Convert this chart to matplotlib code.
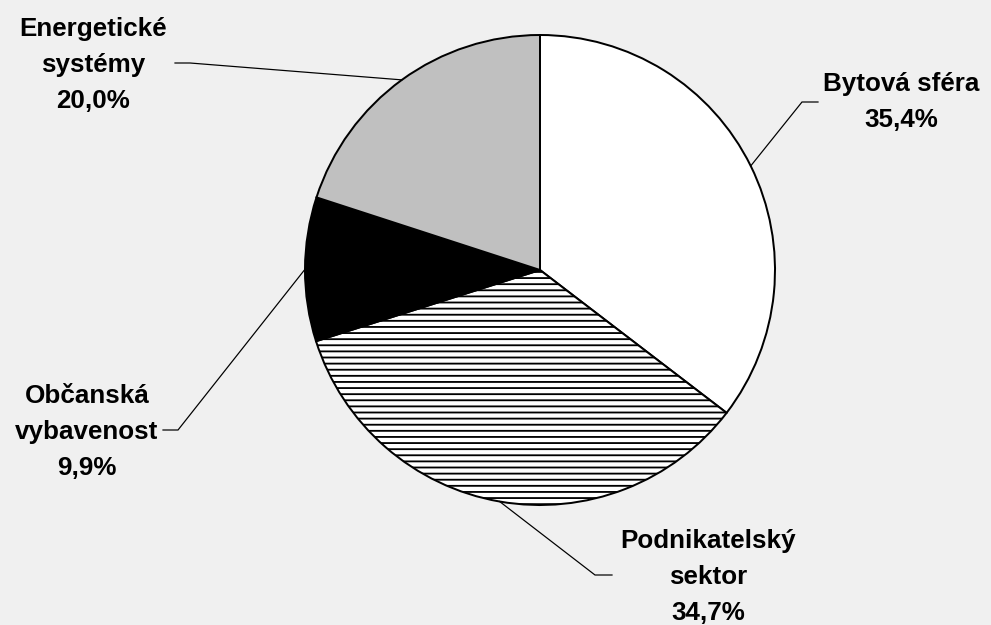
import numpy as np
import matplotlib
matplotlib.use("Agg")
import matplotlib.pyplot as plt

# shares of the total (percent), clockwise from 12 o'clock
labels = ["Bytová sféra", "Podnikatelský\nsektor", "Občanská\nvybavenost", "Energetické\nsystémy"]
shares = [35.4, 34.7, 9.9, 20.0]
colors = ["white", "white", "black", "#c0c0c0"]
hatches = [None, "---", None, None]

W, H, DPI = 991, 625, 110
plt.rcParams["font.family"] = ["Liberation Sans", "DejaVu Sans"]
plt.rcParams["hatch.linewidth"] = 1.2
plt.rcParams["hatch.color"] = "#222222"

fig = plt.figure(figsize=(W / DPI, H / DPI), dpi=DPI, facecolor="#f0f0f0")
ax = fig.add_axes([0, 0, 1, 1])
ax.set_facecolor("#f0f0f0")

cx, cy, r = 540, H - 270, 235
wedges, _ = ax.pie(shares, colors=colors, startangle=90, counterclock=False,
                   center=(cx, cy), radius=r, frame=True,
                   wedgeprops=dict(edgecolor="black", linewidth=1.3))
for w, h in zip(wedges, hatches):
    if h:
        w.set_hatch(h)
ax.set_xlim(0, W)
ax.set_ylim(0, H)
ax.set_aspect("equal")
ax.axis("off")

# label block centre, leader elbow, end of short horizontal tick (pixel layout, y from top)
layout = [
    ((901, 102), (802, 102), (818, 102)),
    ((708, 577), (595, 575), (612, 575)),
    ((87, 432), (178, 430), (163, 430)),
    ((93, 65), (190, 63), (175, 63)),
]

for w, lab, val, (txt, elbow, tick) in zip(wedges, labels, shares, layout):
    ang = np.deg2rad((w.theta1 + w.theta2) / 2)
    x0, y0 = cx + r * np.cos(ang), cy + r * np.sin(ang)
    ax.plot([x0, elbow[0], tick[0]], [y0, H - elbow[1], H - tick[1]],
            color="black", lw=0.8, solid_joinstyle="miter")
    s = f"{lab}\n{val:.1f}%".replace(".", ",")
    ax.text(txt[0], H - txt[1], s, ha="center", va="center", fontsize=17,
            fontweight="bold", linespacing=1.62, multialignment="center")

fig.savefig("out.png", dpi=DPI, facecolor=fig.get_facecolor())
